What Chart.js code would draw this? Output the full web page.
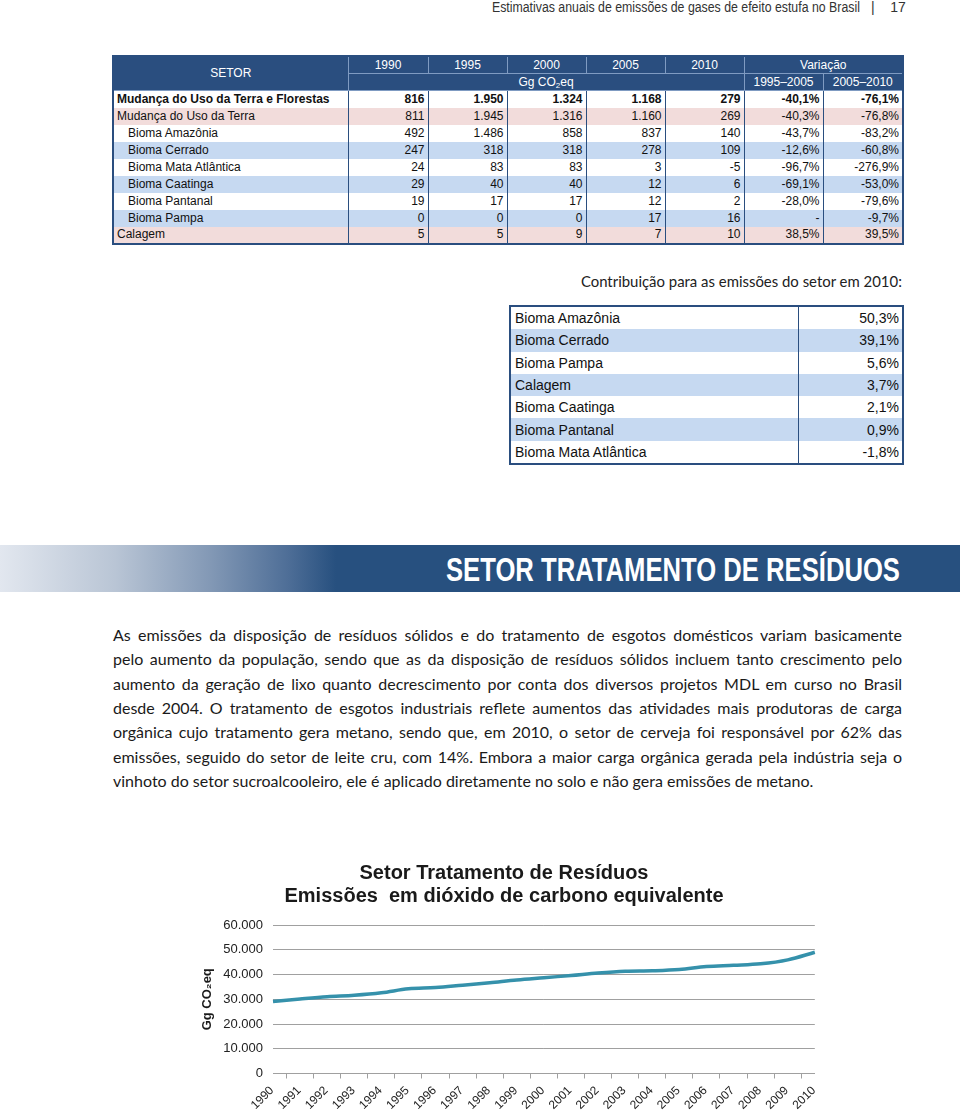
<!DOCTYPE html>
<html>
<head>
<meta charset="utf-8">
<script src="https://cdn.jsdelivr.net/npm/chart.js"></script>
<style>
  html, body { margin: 0; padding: 0; background: #fff; }
  body { width: 960px; height: 1112px; position: relative; overflow: hidden; font-family: "Liberation Sans", Arial, sans-serif; color: #111; }
  .abs { position: absolute; }
  .fit { white-space: nowrap; display: inline-block; transform-origin: right center; }
  #hdr { top: -1px; right: 100px; font-family: "Liberation Sans Narrow", "Liberation Sans", sans-serif; font-size: 14px; color: #333; }
  #pg { top: -1px; left: 871px; font-family: "Liberation Sans Narrow", "Liberation Sans", sans-serif; font-size: 14px; color: #333; }
  #t1 { left: 112px; top: 55px; width: 790px; border-collapse: collapse; table-layout: fixed; font-size: 12px; border: 2px solid #2A4E7F; }
  #t1 tr { height: 17px; }
  #t1 td { height: 16px; line-height: 15px; padding: 0 3px 0 3px; white-space: nowrap; overflow: hidden; }
  #t1 td.n { text-align: right; border-left: 1.5px solid #2A4E7F; }
  #t1 tr.h td { background: #2A4E7F; color: #fff; text-align: center; border: 1px solid #7F9BC2; }
  #t1 tr.h td.first { border-left: none; }
  #t1 sub { font-size: 8px; line-height: 0; vertical-align: -2px; }
  #t1 tr.b td { font-weight: bold; }
  #t1 td.ind { padding-left: 14px; }
  .pk td { background: #F2DCDB; }
  .bl td { background: #C6D9F1; }
  #t2 { left: 509px; top: 305px; width: 393px; border-collapse: collapse; table-layout: fixed; font-size: 14px; border: 2px solid #2A4E7F; }
  #t2 td { height: 22.3px; line-height: 20px; padding: 0 3px 0 4px; white-space: nowrap; }
  #t2 td.n { text-align: right; border-left: 1.5px solid #2A4E7F; }
  #contrib { top: 272px; right: 58px; font-family: Lato, "Open Sans", sans-serif; font-size: 15px; color: #222; }
  #banner { left: 0; top: 545px; width: 960px; height: 47px;
    background: linear-gradient(to right, #E2E7EF 0%, #B9C5D5 12%, #8298B5 22%, #4E6E97 30%, #27507F 35%, #27507F 100%); }
  #bantxt { top: 549px; right: 60px; font-family: "Liberation Sans Narrow", "Liberation Sans", sans-serif; font-weight: bold; font-size: 34px; color: #fff; line-height: 40px; }
  #para { left: 113px; top: 623px; width: 789px; font-family: Lato, "Open Sans", sans-serif; font-size: 16px; color: #1a1a1a; }
  #para div { height: 24.33px; line-height: 24.33px; white-space: nowrap; }
  #chartBox { left: 190px; top: 846px; width: 640px; height: 266px; }
</style>
</head>
<body>
<span id="hdr" class="abs fit" data-w="368">Estimativas anuais de emissões de gases de efeito estufa no Brasil</span>
<span id="pg" class="abs">|&nbsp;&nbsp;&nbsp;&nbsp;17</span>

<table id="t1" class="abs"></table>

<span id="contrib" class="abs fit" data-w="321">Contribuição para as emissões do setor em 2010:</span>
<table id="t2" class="abs"></table>

<div id="banner" class="abs"></div>
<span id="bantxt" class="abs fit" data-w="454">SETOR TRATAMENTO DE RESÍDUOS</span>

<div id="para" class="abs"></div>

<div id="chartBox" class="abs"><canvas id="c"></canvas></div>

<script>
// dados do gráfico
const years = ['1990', '1991', '1992', '1993', '1994', '1995', '1996', '1997', '1998', '1999', '2000',
  '2001', '2002', '2003', '2004', '2005', '2006', '2007', '2008', '2009', '2010'];
const emissions = [29100, 30100, 31000, 31600, 32600, 34200, 34700, 35700, 36700, 37800, 38700,
  39600, 40600, 41300, 41500, 42000, 43200, 43700, 44300, 45900, 49000];
const yTicks = [0, 10000, 20000, 30000, 40000, 50000, 60000];

// tabela do setor
const tableYears = ['1990', '1995', '2000', '2005', '2010'];
const sectorNames = ['Mudança do Uso da Terra e Florestas', 'Mudança do Uso da Terra', 'Bioma Amazônia', 'Bioma Cerrado',
  'Bioma Mata Atlântica', 'Bioma Caatinga', 'Bioma Pantanal', 'Bioma Pampa', 'Calagem'];
const sectorValues = [
  ['816', '1.950', '1.324', '1.168', '279', '-40,1%', '-76,1%'],
  ['811', '1.945', '1.316', '1.160', '269', '-40,3%', '-76,8%'],
  ['492', '1.486', '858', '837', '140', '-43,7%', '-83,2%'],
  ['247', '318', '318', '278', '109', '-12,6%', '-60,8%'],
  ['24', '83', '83', '3', '-5', '-96,7%', '-276,9%'],
  ['29', '40', '40', '12', '6', '-69,1%', '-53,0%'],
  ['19', '17', '17', '12', '2', '-28,0%', '-79,6%'],
  ['0', '0', '0', '17', '16', '-', '-9,7%'],
  ['5', '5', '9', '7', '10', '38,5%', '39,5%']
];
const rowStyle = ['b', 'pk', '', 'bl', '', 'bl', '', 'bl', 'pk'];
const indented = [false, false, true, true, true, true, true, true, false];

// contribuição 2010
const contribNames = ['Bioma Amazônia', 'Bioma Cerrado', 'Bioma Pampa', 'Calagem', 'Bioma Caatinga', 'Bioma Pantanal', 'Bioma Mata Atlântica'];
const contribValues = ['50,3%', '39,1%', '5,6%', '3,7%', '2,1%', '0,9%', '-1,8%'];

const paraLines = [
  'As emissões da disposição de resíduos sólidos e do tratamento de esgotos domésticos variam basicamente',
  'pelo aumento da população, sendo que as da disposição de resíduos sólidos incluem tanto crescimento pelo',
  'aumento da geração de lixo quanto decrescimento por conta dos diversos projetos MDL em curso no Brasil',
  'desde 2004. O tratamento de esgotos industriais reflete aumentos das atividades mais produtoras de carga',
  'orgânica cujo tratamento gera metano, sendo que, em 2010, o setor de cerveja foi responsável por 62% das',
  'emissões, seguido do setor de leite cru, com 14%. Embora a maior carga orgânica gerada pela indústria seja o',
  'vinhoto do setor sucroalcooleiro, ele é aplicado diretamente no solo e não gera emissões de metano.'
];

// montar tabela 1
let h = '<colgroup><col style="width:235px">';
[80, 79, 79, 79, 79, 79, 80].forEach(w => h += '<col style="width:' + w + 'px">');
h += '</colgroup>';
h += '<tr class="h"><td rowspan="2" class="first">SETOR</td>';
tableYears.forEach(y => h += '<td>' + y + '</td>');
h += '<td colspan="2">Variação</td></tr>';
h += '<tr class="h"><td colspan="5">Gg CO<sub>2</sub>eq</td><td>1995–2005</td><td>2005–2010</td></tr>';
sectorNames.forEach((name, i) => {
  h += '<tr class="' + rowStyle[i] + '"><td class="' + (indented[i] ? 'ind' : '') + '">' + name + '</td>';
  sectorValues[i].forEach(v => h += '<td class="n">' + v + '</td>');
  h += '</tr>';
});
document.getElementById('t1').innerHTML = h;

// tabela 2
let h2 = '<colgroup><col style="width:288px"><col style="width:105px"></colgroup>';
contribNames.forEach((name, i) => {
  h2 += '<tr class="' + (i % 2 ? 'bl' : '') + '"><td>' + name + '</td><td class="n">' + contribValues[i] + '</td></tr>';
});
document.getElementById('t2').innerHTML = h2;

// parágrafo justificado linha a linha
const para = document.getElementById('para');
paraLines.forEach((line, i) => {
  const d = document.createElement('div');
  const s = document.createElement('span');
  s.textContent = line;
  d.appendChild(s);
  para.appendChild(d);
  if (i < paraLines.length - 1) {
    const nat = s.getBoundingClientRect().width;
    const spaces = line.split(' ').length - 1;
    d.style.wordSpacing = ((789 - nat) / spaces) + 'px';
  }
});

// ajustar larguras dos textos
document.querySelectorAll('.fit').forEach(el => {
  const w = +el.dataset.w;
  const nat = el.getBoundingClientRect().width;
  el.style.transform = 'scaleX(' + (w / nat) + ')';
});

const fmt = v => v === 0 ? '0' : (v / 1000).toFixed(3);

new Chart(document.getElementById('c'), {
  type: 'line',
  data: {
    labels: years,
    datasets: [{
      data: emissions,
      borderColor: '#3591AB',
      borderWidth: 3.5,
      pointRadius: 0,
      tension: 0.35,
      fill: false
    }]
  },
  options: {
    responsive: true,
    maintainAspectRatio: false,
    animation: false,
    layout: { padding: { left: 0, right: 12, top: 0, bottom: 0 } },
    plugins: {
      legend: { display: false },
      tooltip: { enabled: false },
      title: {
        display: true,
        text: ['Setor Tratamento de Resíduos', 'Emissões  em dióxido de carbono equivalente'],
        font: { family: '"Liberation Sans", Arial, sans-serif', size: 20, weight: 'bold', lineHeight: 1.15 },
        color: '#1a1a1a',
        padding: { top: 15.5, bottom: 17.5 }
      }
    },
    scales: {
      x: {
        grid: { drawOnChartArea: false, drawTicks: true, tickLength: 5, offset: true, color: '#A0A0A0' },
        border: { color: '#A0A0A0' },
        ticks: { maxRotation: 45, minRotation: 45, autoSkip: false, color: '#222', font: { size: 12 }, padding: 5, labelOffset: -1 },
        afterFit: s => { s.height = 38.5; }
      },
      y: {
        min: 0,
        max: 60000,
        afterBuildTicks: s => { s.ticks = yTicks.map(v => ({ value: v })); },
        grid: { color: '#A0A0A0', drawTicks: false },
        border: { display: false },
        ticks: { color: '#222', font: { size: 13 }, padding: 10, callback: v => fmt(v) },
        title: { display: true, text: 'Gg CO₂eq', color: '#1a1a1a', font: { size: 13, weight: 'bold' }, padding: 10 },
        afterFit: s => { s.width = 83; }
      }
    }
  }
});
</script>
</body>
</html>
